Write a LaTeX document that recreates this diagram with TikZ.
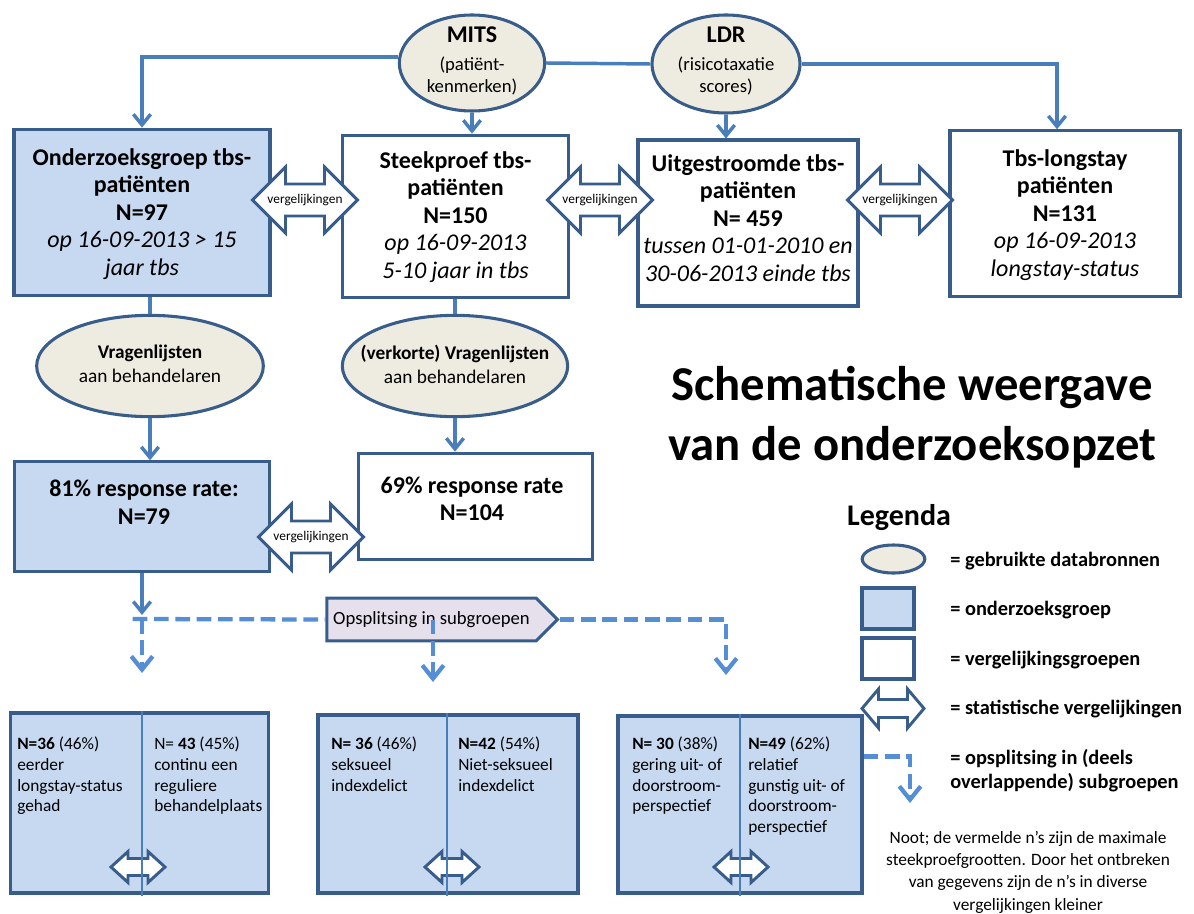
\documentclass[tikz,border=0pt]{standalone}
\usepackage{fontspec}
\setmainfont{Carlito}
\usetikzlibrary{arrows.meta,shapes.geometric,shapes.symbols}
\definecolor{bordc}{HTML}{385D8A}
\definecolor{bluef}{HTML}{C6D9F1}
\definecolor{tanf}{HTML}{EEECE1}
\definecolor{linec}{HTML}{4A7EBB}
\definecolor{dashc}{HTML}{558ED5}
\definecolor{lavf}{HTML}{E5E0EC}
\tikzset{
  box/.style={rectangle, draw=bordc, line width=2.3pt, inner sep=0pt},
  bluebox/.style={box, fill=bluef},
  whitebox/.style={box, fill=white},
  src/.style={ellipse, draw=bordc, line width=2.3pt, fill=tanf, inner sep=0pt},
  conn/.style={draw=linec, line width=2.6pt, -{Straight Barb[length=8pt,width=13pt]}},
  nolin/.style={draw=linec, line width=2.6pt},
  dconn/.style={draw=dashc, line width=3.2pt, dash pattern=on 11pt off 5pt},
  dtip/.style={-{Straight Barb[length=10pt,width=16pt]}},
  cmp/.style={draw=bordc, line width=2.2pt, fill=white, line join=miter},
  divl/.style={draw=linec, line width=0.9pt},
  txt/.style={inner sep=0pt, align=center},
  boxfont/.style={font=\fontsize{18}{20.6}\selectfont},
  subfont/.style={font=\fontsize{13}{15.4}\selectfont, inner sep=0pt, align=left, anchor=north west},
  legfont/.style={font=\fontsize{15.3}{18}\selectfont\bfseries, inner sep=0pt, align=left, anchor=west},
  vtxt/.style={inner sep=0pt, font=\fontsize{10}{12}\selectfont},
  pics/dbl/.style args={#1/#2/#3/#4}{code={
    \draw[cmp] (-#1,0) -- (-#1+#2,-#4) -- (-#1+#2,-#3) -- (#1-#2,-#3) -- (#1-#2,-#4) -- (#1,0)
      -- (#1-#2,#4) -- (#1-#2,#3) -- (-#1+#2,#3) -- (-#1+#2,#4) -- cycle;
  }},
}
\begin{document}
\begin{tikzpicture}[x=0.75pt,y=-0.75pt]
\useasboundingbox (0,0) rectangle (1194,913);

% data sources
\node[src, minimum width=109pt, minimum height=72pt] (mits) at (472,63) {};
\node[txt, font=\fontsize{14}{16.5}\selectfont] (mitst) at (472,61) {\textbf{\fontsize{18}{21}\selectfont MITS}\\[4pt](patiënt-\\kenmerken)};
\node[src, minimum width=111pt, minimum height=73.5pt] (ldr) at (726,64) {};
\node[txt, font=\fontsize{14}{16.5}\selectfont] (ldrt) at (726,61) {\textbf{\fontsize{18}{21}\selectfont LDR}\\[4pt](risicotaxatie\\scores)};

% top boxes
\node[bluebox, minimum width=192pt, minimum height=125pt] (g1) at (142,212.5) {};
\node[txt, boxfont] (g1t) at (142,214) {\textbf{Onderzoeksgroep tbs-}\\\textbf{patiënten}\\\textbf{N=97}\\\textit{op 16-09-2013 > 15}\\\textit{jaar tbs}};
\node[whitebox, minimum width=170pt, minimum height=122pt] (g2) at (455.5,216.5) {};
\node[txt, boxfont] (g2t) at (455.5,217) {\textbf{Steekproef tbs-}\\\textbf{patiënten}\\\textbf{N=150}\\\textit{op 16-09-2013}\\\textit{5-10 jaar in tbs}};
\node[whitebox, minimum width=165pt, minimum height=124.5pt] (g3) at (748,223) {};
\node[txt, boxfont] (g3t) at (748,218) {\textbf{Uitgestroomde tbs-}\\\textbf{patiënten}\\\textbf{N= 459}\\\textit{tussen 01-01-2010 en}\\\textit{30-06-2013 einde tbs}};
\node[whitebox, minimum width=172.5pt, minimum height=124pt] (g4) at (1065,213.5) {};
\node[txt, boxfont] (g4t) at (1065,215) {\textbf{Tbs-longstay}\\\textbf{patiënten}\\\textbf{N=131}\\\textit{op 16-09-2013}\\\textit{longstay-status}};

% questionnaires
\node[src, minimum width=170pt, minimum height=76pt] (e1) at (150,366) {};
\node[txt, font=\fontsize{14.5}{18}\selectfont] (e1t) at (150,364) {\textbf{Vragenlijsten}\\aan behandelaren};
\node[src, minimum width=169pt, minimum height=76pt] (e2) at (455,366) {};
\node[txt, font=\fontsize{14.5}{18}\selectfont] (e2t) at (455,364) {\textbf{(verkorte) Vragenlijsten}\\aan behandelaren};

% response boxes
\node[bluebox, minimum width=191pt, minimum height=82pt] (g5) at (142,516.5) {};
\node[txt, boxfont] (g5t) at (144,502) {\textbf{81\% response rate:}\\\textbf{N=79}};
\node[whitebox, minimum width=176pt, minimum height=80pt] (g6) at (475.5,506.5) {};
\node[txt, boxfont] (g6t) at (472,499) {\textbf{69\% response rate}\\\textbf{N=104}};

% connectors
\draw[conn] ([yshift=4.5pt]mits.west) -| (g1.north);
\draw[conn] (mits.south) -- (mits.south |- g2.north);
\draw[nolin] (mits.east) -- (ldr.west);
\draw[conn] (ldr.east) -| ([xshift=-6pt]g4.north);
\draw[conn] (ldr.south) -- (ldr.south |- g3.north);
\draw[nolin] (g1.south -| e1.north) -- (e1.north);
\draw[conn] (e1.south) -- (e1.south |- g5.north);
\draw[nolin] (g2.south -| e2.north) -- (e2.north);
\draw[conn] (e2.south) -- (e2.south |- g6.north);

% comparison arrows
\pic (a1) at (305,200) {dbl={52.5/33/16/33}};
\node[vtxt] (v1) at (305,200) {vergelijkingen};
\pic (a2) at (600,200) {dbl={52.5/33/16/33}};
\node[vtxt] (v2) at (600,200) {vergelijkingen};
\pic (a3) at (900,200) {dbl={52.5/33/16/33}};
\node[vtxt] (v3) at (900,200) {vergelijkingen};
\pic (a4) at (311,537) {dbl={52.5/33/16/33}};
\node[vtxt] (v4) at (311,537) {vergelijkingen};

% split
\node[draw=bordc, line width=2.3pt, fill=lavf, shape=signal, signal to=east, signal from=nowhere,
      minimum width=173pt, minimum height=32pt, inner sep=0pt, font=\fontsize{14}{16}\selectfont] (ops) at (431.5,619.5) {Opsplitsing in subgroepen};
\coordinate (split) at (142,619);
\coordinate (d1) at (142,673);
\coordinate (d2) at (433,682);
\coordinate (d3) at (726,675);
\draw[conn] (g5.south) -- ([yshift=3pt]split);
\draw[dconn] ([xshift=-7pt]split) -- (ops.west);
\draw[dconn,dtip] (split) -- (d1);
\draw[dconn,dtip] (ops.east) -| (d3);
\draw[dconn,dtip] (d2 |- ops.center) -- (d2);

% subgroup boxes
\node[bluebox, minimum width=194pt, minimum height=135pt] (b1) at (139.5,803) {};
\node[bluebox, minimum width=195pt, minimum height=133.5pt] (b2) at (448,804) {};
\node[bluebox, minimum width=183pt, minimum height=132.75pt] (b3) at (740,804.5) {};
\node[subfont] (b1l) at (17,737) {\textbf{N=36} (46\%)\\eerder\\longstay-status\\gehad};
\node[subfont] (b1r) at (154,737) {N= \textbf{43} (45\%)\\continu een\\reguliere\\behandelplaats};
\node[subfont] (b2l) at (331,737) {\textbf{N= 36} (46\%)\\seksueel\\indexdelict};
\node[subfont] (b2r) at (458,737) {\textbf{N=42} (54\%)\\Niet-seksueel\\indexdelict};
\node[subfont] (b3l) at (632,737) {\textbf{N= 30} (38\%)\\gering uit- of\\doorstroom-\\perspectief};
\node[subfont] (b3r) at (748,737) {\textbf{N=49} (62\%)\\relatief\\gunstig uit- of\\doorstroom-\\perspectief};
\pic (s1) at (138,867) {dbl={27/17/8.5/15.5}};
\pic (s2) at (452,867) {dbl={27/17/8.5/15.5}};
\pic (s3) at (741,867) {dbl={27/17/8.5/15.5}};
\draw[divl] ([xshift=1.9pt]b1.north) -- ([xshift=1.9pt,yshift=-1pt]b1.south);
\draw[divl] ([xshift=-0.75pt]b2.north) -- ([xshift=-0.75pt,yshift=-1pt]b2.south);
\draw[divl] (b3.north) -- ([yshift=-1pt]b3.south);

% title
\node[txt, font=\fontsize{36.5}{45}\selectfont\bfseries] (title) at (912,417) {Schematische weergave\\van de onderzoeksopzet};

% legend
\node[txt, font=\fontsize{22.5}{27}\selectfont\bfseries] (leg) at (899,518) {Legenda};
\node[src, minimum width=47pt, minimum height=21pt] (le) at (893.5,559) {};
\node[bluebox, minimum width=39pt, minimum height=30.75pt] (lb) at (888,608.5) {};
\node[whitebox, minimum width=39pt, minimum height=30.75pt] (lw) at (888,658.5) {};
\pic (la) at (893,708.5) {dbl={31/16.5/9/19.5}};
\coordinate (l2) at (910,803);
\draw[dconn,dtip] ([yshift=36pt]b3.east) -| (l2);
\node[legfont] (let) at (950,561) {= gebruikte databronnen};
\node[legfont] (lbt) at (950,610) {= onderzoeksgroep};
\node[legfont] (lwt) at (950,660) {= vergelijkingsgroepen};
\node[legfont] (lat) at (950,709) {= statistische vergelijkingen};
\node[legfont] (ldt) at (950,771) {= opsplitsing in (deels\\overlappende) subgroepen};

% note
\node[txt, font=\fontsize{13}{16.7}\selectfont] (note) at (1028,872) {Noot; de vermelde n’s zijn de maximale\\steekproefgrootten. Door het ontbreken\\van gegevens zijn de n’s in diverse\\vergelijkingen kleiner};
\end{tikzpicture}
\end{document}
